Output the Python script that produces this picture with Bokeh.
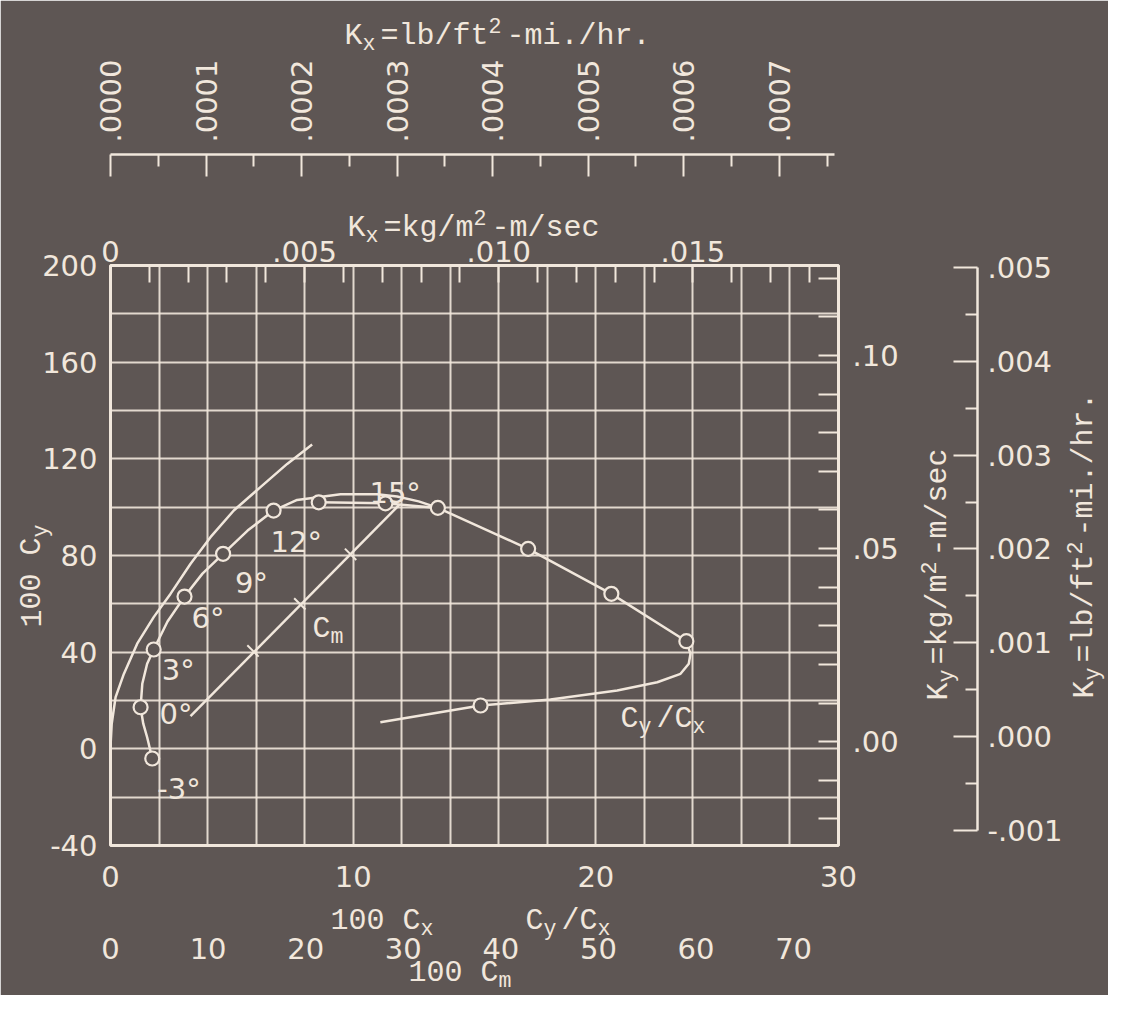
import re
from bokeh.plotting import figure
from bokeh.models import (Range1d, LinearAxis, FixedTicker, CustomJSTickFormatter,
                          ColumnDataSource)
from bokeh.core.properties import value
from bokeh.embed import file_html
from bokeh.resources import INLINE

BG = "#5e5654"
INK = "#f1e7dc"
NUM_FONT = "DejaVu Sans"
TYPE_FONT = "Liberation Mono"

# ---------------- data ----------------
angle_text = ["-3°", "0°", "3°", "6°", "9°", "12°", "15°"]
polar_cx = [1.72, 1.24, 1.78, 3.05, 4.64, 6.72, 11.33]
polar_cy = [-4.0, 17.2, 41.1, 63.0, 80.7, 98.6, 101.6]

polar_curve_cx = [1.72, 1.51, 1.35, 1.24, 1.31, 1.51, 1.78, 2.35, 3.05, 3.79, 4.64, 5.65,
                  6.72, 7.69, 9.48, 10.99, 11.81, 12.70, 13.47]
polar_curve_cy = [-4.0, 4.8, 10.4, 17.2, 26.9, 35.2, 41.1, 52.7, 63.0, 72.5, 80.7, 90.3,
                  98.6, 103.0, 105.3, 105.3, 104.4, 102.4, 99.8]

ratio_pts_x = [8.58, 13.49, 17.21, 20.64, 23.73, 15.25]
ratio_pts_cy = [102.0, 99.7, 82.75, 64.14, 44.53, 17.93]
ratio_curve_x = [8.58, 11.33, 13.49, 17.21, 20.64, 23.73, 23.90, 23.83, 23.49, 22.53,
                 20.88, 18.13, 15.25, 11.12]
ratio_curve_cy = [102.0, 101.6, 99.7, 82.75, 64.14, 44.53, 39.31, 35.18, 31.04, 27.56,
                  24.13, 20.41, 17.93, 11.01]

outer_cx = [0.0, 0.05, 0.21, 0.55, 1.10, 1.78, 2.47, 3.30, 4.12, 5.08, 6.18, 7.28, 8.31]
outer_cy = [1.0, 10.4, 21.4, 31.0, 43.5, 54.5, 64.1, 76.6, 87.6, 98.6, 108.3, 117.9, 125.9]

cm_line_cm = [8.2, 29.6]
cm_line_cy = [13.5, 101.0]
cm_mark_cm = [14.6, 19.4, 24.6]
cm_mark_cy = [40.5, 60.0, 80.5]

cy_ticks = [-40, 0, 40, 80, 120, 160, 200]
cx_ticks = [0, 10, 20, 30]
cm_ticks = [0, 10, 20, 30, 40, 50, 60, 70]
kx_kg_ticks = [0.0, 0.005, 0.010, 0.015]
kx_kg_minor = [0.001, 0.002, 0.003, 0.004, 0.006, 0.007, 0.008, 0.009, 0.011, 0.012,
               0.013, 0.014, 0.016, 0.017, 0.018]
kx_lb_ticks = [0.0, 0.0001, 0.0002, 0.0003, 0.0004, 0.0005, 0.0006, 0.0007]
kx_lb_minor = [0.00005, 0.00015, 0.00025, 0.00035, 0.00045, 0.00055, 0.00065, 0.00075]
ky_kg_ticks = [0.0, 0.05, 0.10]
ky_kg_minor = [-0.02, -0.01, 0.01, 0.02, 0.03, 0.04, 0.06, 0.07, 0.08, 0.09, 0.11, 0.12]
ky_lb_ticks = [-0.001, 0.0, 0.001, 0.002, 0.003, 0.004, 0.005]
ky_lb_minor = [-0.0005, 0.0005, 0.0015, 0.0025, 0.0035, 0.0045]
grid_x = [0, 2, 4, 6, 8, 10, 12, 14, 16, 18, 20, 22, 24, 26, 28, 30]
grid_y = [-40, -20, 0, 20, 40, 60, 80, 100, 120, 140, 160, 180, 200]

# label placement (pixel offsets from each angle point)
label_dx = [5, 19, 8, 7, 12, -3, -16]
label_dy = [30, 7, 20, 21, 29, 31, -10]

# ---------------- figure ----------------
W, H = 1108, 995
ML, MT, FW, FH = 110, 265, 728, 580
p = figure(width=W, height=H, x_range=Range1d(0, 30), y_range=Range1d(-40, 200),
           output_backend="svg", toolbar_location=None,
           min_border_left=ML, min_border_top=MT,
           min_border_right=W - ML - FW, min_border_bottom=H - MT - FH,
           background_fill_color=BG, border_fill_color=BG,
           outline_line_color=INK, outline_line_width=3)

p.extra_x_ranges = {"cm": Range1d(0, 74.6), "kxkg": Range1d(0, 0.01875),
                    "kxlb": Range1d(0, 0.000762)}
p.extra_y_ranges = {"kykg": Range1d(-0.0269, 0.1233), "kylb": Range1d(-0.00116, 0.00502)}


def style_axis(ax, size="29px"):
    ax.axis_line_color = INK
    ax.axis_line_width = 2.5
    ax.major_tick_line_color = INK
    ax.minor_tick_line_color = INK
    ax.major_tick_line_width = 2
    ax.minor_tick_line_width = 2
    ax.major_label_text_color = INK
    ax.major_label_text_font = NUM_FONT
    ax.major_label_text_font_size = size
    ax.axis_label_text_color = INK
    ax.major_tick_out = 0
    ax.minor_tick_out = 0
    ax.major_tick_in = 0
    ax.minor_tick_in = 0


# grid
p.xgrid.ticker = FixedTicker(ticks=grid_x)
p.ygrid.ticker = FixedTicker(ticks=grid_y)
for g in (p.xgrid, p.ygrid):
    g.grid_line_color = INK
    g.grid_line_width = 2
    g.grid_line_alpha = 0.9

# left axis: 100 Cy
ya = p.yaxis[0]
style_axis(ya)
ya.ticker = FixedTicker(ticks=cy_ticks)
ya.formatter = CustomJSTickFormatter(code="return tick.toFixed(0)")
ya.axis_line_color = None
ya.major_label_standoff = 13

# bottom axis: 100 Cx and Cy/Cx
xa = p.xaxis[0]
style_axis(xa)
xa.ticker = FixedTicker(ticks=cx_ticks)
xa.formatter = CustomJSTickFormatter(code="return tick.toFixed(0)")
xa.axis_line_color = None
xa.major_label_standoff = 20
xa.axis_label = " "
xa.axis_label_text_font_size = "30px"
xa.axis_label_standoff = 10

# bottom axis: 100 Cm
cm_ax = LinearAxis(x_range_name="cm", ticker=FixedTicker(ticks=cm_ticks),
                   formatter=CustomJSTickFormatter(code="return tick.toFixed(0)"))
style_axis(cm_ax)
cm_ax.axis_line_color = None
cm_ax.major_label_standoff = 2
p.add_layout(cm_ax, "below")

# top axis: Kx kg/m2-m/sec (on frame edge, ticks inward)
kxkg = LinearAxis(x_range_name="kxkg",
                  ticker=FixedTicker(ticks=kx_kg_ticks, minor_ticks=kx_kg_minor),
                  formatter=CustomJSTickFormatter(
                      code="return tick == 0 ? '0' : tick.toFixed(3).replace(/^0\\./, '.')"))
style_axis(kxkg)
kxkg.major_tick_in = 17
kxkg.minor_tick_in = 17
kxkg.major_label_standoff = 4
kxkg.axis_label = " "
kxkg.axis_label_text_font_size = "50px"
kxkg.axis_label_standoff = 24
p.add_layout(kxkg, "above")

# top detached axis: Kx lb/ft2-mi/hr
kxlb = LinearAxis(x_range_name="kxlb",
                  ticker=FixedTicker(ticks=kx_lb_ticks, minor_ticks=kx_lb_minor),
                  formatter=CustomJSTickFormatter(
                      code="return tick.toFixed(4).replace(/^0\\./, '.')"),
                  bounds=(0, 0.000758))
style_axis(kxlb)
kxlb.major_tick_in = 22
kxlb.minor_tick_in = 12
kxlb.major_label_orientation = "vertical"
kxlb.major_label_standoff = 12
p.add_layout(kxlb, "above")

# right axis: Ky kg/m2-m/sec (on frame edge, ticks inward)
kykg = LinearAxis(y_range_name="kykg",
                  ticker=FixedTicker(ticks=ky_kg_ticks, minor_ticks=ky_kg_minor),
                  formatter=CustomJSTickFormatter(
                      code="return tick.toFixed(2).replace(/^0\\./, '.')"))
style_axis(kykg)
kykg.major_tick_in = 20
kykg.minor_tick_in = 20
kykg.major_label_standoff = 14
kykg.axis_label = " "
kykg.axis_label_text_font_size = "56px"
kykg.axis_label_standoff = 10
p.add_layout(kykg, "right")

# right detached axis: Ky lb/ft2-mi/hr
kylb = LinearAxis(y_range_name="kylb",
                  ticker=FixedTicker(ticks=ky_lb_ticks, minor_ticks=ky_lb_minor),
                  formatter=CustomJSTickFormatter(
                      code="var s = Math.abs(tick).toFixed(3).replace(/^0\\./, '.');"
                           "return tick < 0 ? '-' + s : s;"),
                  bounds=(-0.001, 0.005))
style_axis(kylb)
kylb.major_tick_in = 24
kylb.minor_tick_in = 12
kylb.major_label_standoff = 10
p.add_layout(kylb, "right")

# ---------------- curves ----------------
LW = 2.5
p.line(outer_cx, outer_cy, line_color=INK, line_width=LW)
p.line(polar_curve_cx, polar_curve_cy, line_color=INK, line_width=LW)
p.line(ratio_curve_x, ratio_curve_cy, line_color=INK, line_width=LW)
p.line(cm_line_cm, cm_line_cy, x_range_name="cm", line_color=INK, line_width=LW)
p.scatter(cm_mark_cm, cm_mark_cy, x_range_name="cm", marker="dash", size=16,
          angle=2.36, line_color=INK, line_width=2)

p.scatter(polar_cx, polar_cy, marker="circle", size=14, fill_color=BG,
          line_color=INK, line_width=2.2)
p.scatter(ratio_pts_x, ratio_pts_cy, marker="circle", size=14, fill_color=BG,
          line_color=INK, line_width=2.2)

src = ColumnDataSource(dict(x=polar_cx, y=polar_cy, t=angle_text,
                            dx=label_dx, dy=label_dy))
p.text(x="x", y="y", text="t", x_offset="dx", y_offset="dy", source=src,
       text_font=value(NUM_FONT), text_font_size="29px", text_color=INK,
       text_align="left", text_baseline="alphabetic")

# ---------------- typewriter labels (with sub/superscripts) ----------------
SX = FW / 30.0
SY = FH / 240.0
pieces = dict(x=[], y=[], t=[], fs=[], a=[])


def comp_label(px, py, parts, size=30, rotated=False):
    adv = 0.6 * size
    n = 0
    for txt, shift in parts:
        fs = size if shift == 0 else 0.72 * size
        off = 0.0 if shift == 0 else (0.33 * size if shift > 0 else -0.27 * size)
        if rotated:
            X, Y = px - off, py - n * adv
        else:
            X, Y = px + n * adv, py - off
        pieces["x"].append((X - ML) / SX)
        pieces["y"].append((MT + FH - Y) / SY - 40)
        pieces["t"].append(txt)
        pieces["fs"].append(f"{fs:.1f}px")
        pieces["a"].append(1.5708 if rotated else 0.0)
        n += len(txt)


comp_label(344, 35, [("K", 0), ("x", -1), ("=lb/ft", 0), ("2", 1), ("-mi./hr.", 0)])
comp_label(347, 227, [("K", 0), ("x", -1), ("=kg/m", 0), ("2", 1), ("-m/sec", 0)])
comp_label(32, 627, [("100 C", 0), ("y", -1)], rotated=True)
comp_label(330, 920, [("100 C", 0), ("x", -1)])
comp_label(525, 920, [("C", 0), ("y", -1), ("/C", 0), ("x", -1)])
comp_label(408, 972, [("100 C", 0), ("m", -1)])
comp_label(312, 628, [("C", 0), ("m", -1)])
comp_label(620, 718, [("C", 0), ("y", -1), ("/C", 0), ("x", -1)])
comp_label(938, 700, [("K", 0), ("y", -1), ("=kg/m", 0), ("2", 1), ("-m/sec", 0)], rotated=True)
comp_label(1084, 698, [("K", 0), ("y", -1), ("=lb/ft", 0), ("2", 1), ("-mi./hr.", 0)],
           rotated=True)

p.text(x="x", y="y", text="t", angle="a", text_font_size="fs",
       source=ColumnDataSource(pieces), level="overlay",
       text_font=value(TYPE_FONT), text_color=INK,
       text_align="left", text_baseline="alphabetic")

html = file_html(p, INLINE)
html = re.sub(r"<body[^>]*>", '<body style="background-color:%s;">' % BG, html, count=1)
open("out.html", "w").write(html)
